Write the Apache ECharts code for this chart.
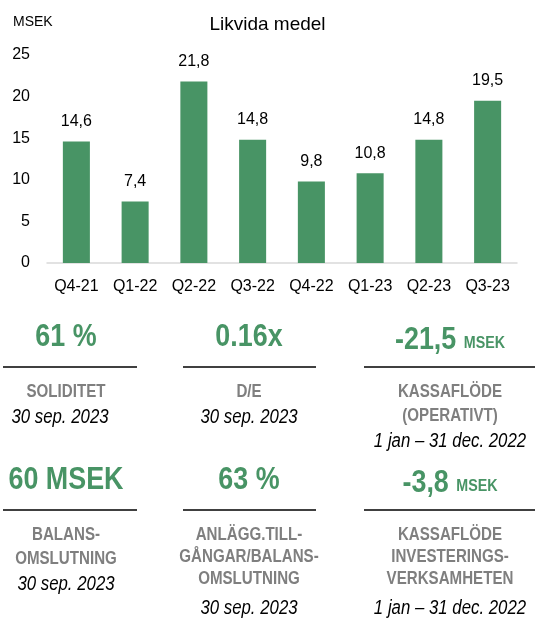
<!DOCTYPE html>
<html>
<head>
<meta charset="utf-8">
<script src="https://cdn.jsdelivr.net/npm/echarts@6/dist/echarts.min.js"></script>
<style>
  html, body { margin: 0; padding: 0; background: #fff; }
  #chart { width: 535px; height: 619px; }
</style>
</head>
<body>
<div id="chart"></div>
<script>
// Likvida medel per kvartal (MSEK)
const quarters = ['Q4-21', 'Q1-22', 'Q2-22', 'Q3-22', 'Q4-22', 'Q1-23', 'Q2-23', 'Q3-23'];
const cash = [14.6, 7.4, 21.8, 14.8, 9.8, 10.8, 14.8, 19.5];
const yTicks = [0, 5, 10, 15, 20, 25];

// nyckeltal under diagrammet
const kpiValues = ['61 %', '0.16x', '-21,5', '60 MSEK', '63 %', '-3,8'];
const kpiUnits = ['', '', 'MSEK', '', '', 'MSEK'];
const kpiLabels = [
  'SOLIDITET',
  'D/E',
  'KASSAFLÖDE\n(OPERATIVT)',
  'BALANS-\nOMSLUTNING',
  'ANLÄGG.TILL-\nGÅNGAR/BALANS-\nOMSLUTNING',
  'KASSAFLÖDE\nINVESTERINGS-\nVERKSAMHETEN'
];
const kpiDates = ['30 sep. 2023', '30 sep. 2023', '1 jan – 31 dec. 2022', '30 sep. 2023', '30 sep. 2023', '1 jan – 31 dec. 2022'];

const GREEN = '#489465';
const FONT = '"Liberation Sans", Arial, sans-serif';
const NARROW = 0.84; // no narrow font installed, squeeze the kpi texts instead

// layout of the kpi blocks
const colX = [66, 249, 450];
const rowY = [337, 480];
const lineY = [367, 510];
const lineX = [[3, 137], [183, 316], [364, 535]];

function kpiGraphics() {
  const g = [];
  kpiValues.forEach((v, i) => {
    const col = i % 3, row = Math.floor(i / 3);
    const cx = colX[col];
    const unit = kpiUnits[i];
    g.push({
      type: 'text', x: cx, y: rowY[row] + (unit ? 3 : 0), scaleX: NARROW,
      style: {
        text: unit ? '{a|' + v + ' }{b|' + unit + '}' : '{a|' + v + '}',
        align: 'center', verticalAlign: 'middle',
        rich: {
          a: { fontFamily: FONT, fontWeight: 'bold', fontSize: 32, fill: GREEN },
          b: { fontFamily: FONT, fontWeight: 'bold', fontSize: 17, fill: GREEN, padding: [6, 0, 0, 0] }
        }
      }
    });
    g.push({
      type: 'line',
      shape: { x1: lineX[col][0], y1: lineY[row], x2: lineX[col][1], y2: lineY[row] },
      style: { stroke: '#404040', lineWidth: 2 }
    });
    const lines = kpiLabels[i].split('\n');
    const step = lines.length > 2 ? 22 : 24;
    const top = lineY[row] + 25;
    lines.forEach((t, k) => {
      g.push({
        type: 'text', x: cx, y: top + k * step, scaleX: NARROW,
        style: {
          text: t, align: 'center', verticalAlign: 'middle',
          fontFamily: FONT, fontWeight: 'bold', fontSize: 18, fill: '#7f7f7f'
        }
      });
    });
    const dy = top + (lines.length - 1) * step + (lines.length > 2 ? 29 : 25);
    g.push({
      type: 'text', x: cx + (i === 0 ? -6 : 0), y: dy, scaleX: NARROW,
      style: {
        text: kpiDates[i], align: 'center', verticalAlign: 'middle',
        fontFamily: FONT, fontStyle: 'italic', fontSize: 20, fill: '#000'
      }
    });
  });
  return g;
}

const chart = echarts.init(document.getElementById('chart'));
chart.setOption({
  animation: false,
  title: {
    text: 'Likvida medel',
    left: 'center',
    top: 10,
    textStyle: { fontFamily: FONT, fontWeight: 'normal', fontSize: 19, color: '#000' }
  },
  graphic: [
    {
      type: 'text', left: 13, top: 15,
      style: { text: 'MSEK', fontFamily: FONT, fontSize: 14, fill: '#000' }
    }
  ].concat(kpiGraphics()),
  grid: { left: 47, right: 18, top: 55, bottom: 356, containLabel: false },
  xAxis: {
    type: 'category',
    data: quarters,
    axisLine: { lineStyle: { color: '#d9d9d9', width: 1.5 } },
    axisTick: { show: false },
    axisLabel: { fontFamily: FONT, fontSize: 16, color: '#000', margin: 16, interval: 0 }
  },
  yAxis: {
    type: 'value',
    min: yTicks[0],
    max: yTicks[yTicks.length - 1],
    interval: 5,
    splitLine: { show: false },
    axisLine: { show: false },
    axisTick: { show: false },
    axisLabel: { fontFamily: FONT, fontSize: 16, color: '#000', margin: 17 }
  },
  series: [
    {
      type: 'bar',
      data: cash,
      barWidth: '46%',
      itemStyle: { color: GREEN },
      label: {
        show: true,
        position: 'top',
        distance: 12,
        fontFamily: FONT,
        fontSize: 16,
        color: '#000',
        formatter: p => String(p.value).replace('.', ',')
      }
    }
  ]
});
</script>
</body>
</html>
